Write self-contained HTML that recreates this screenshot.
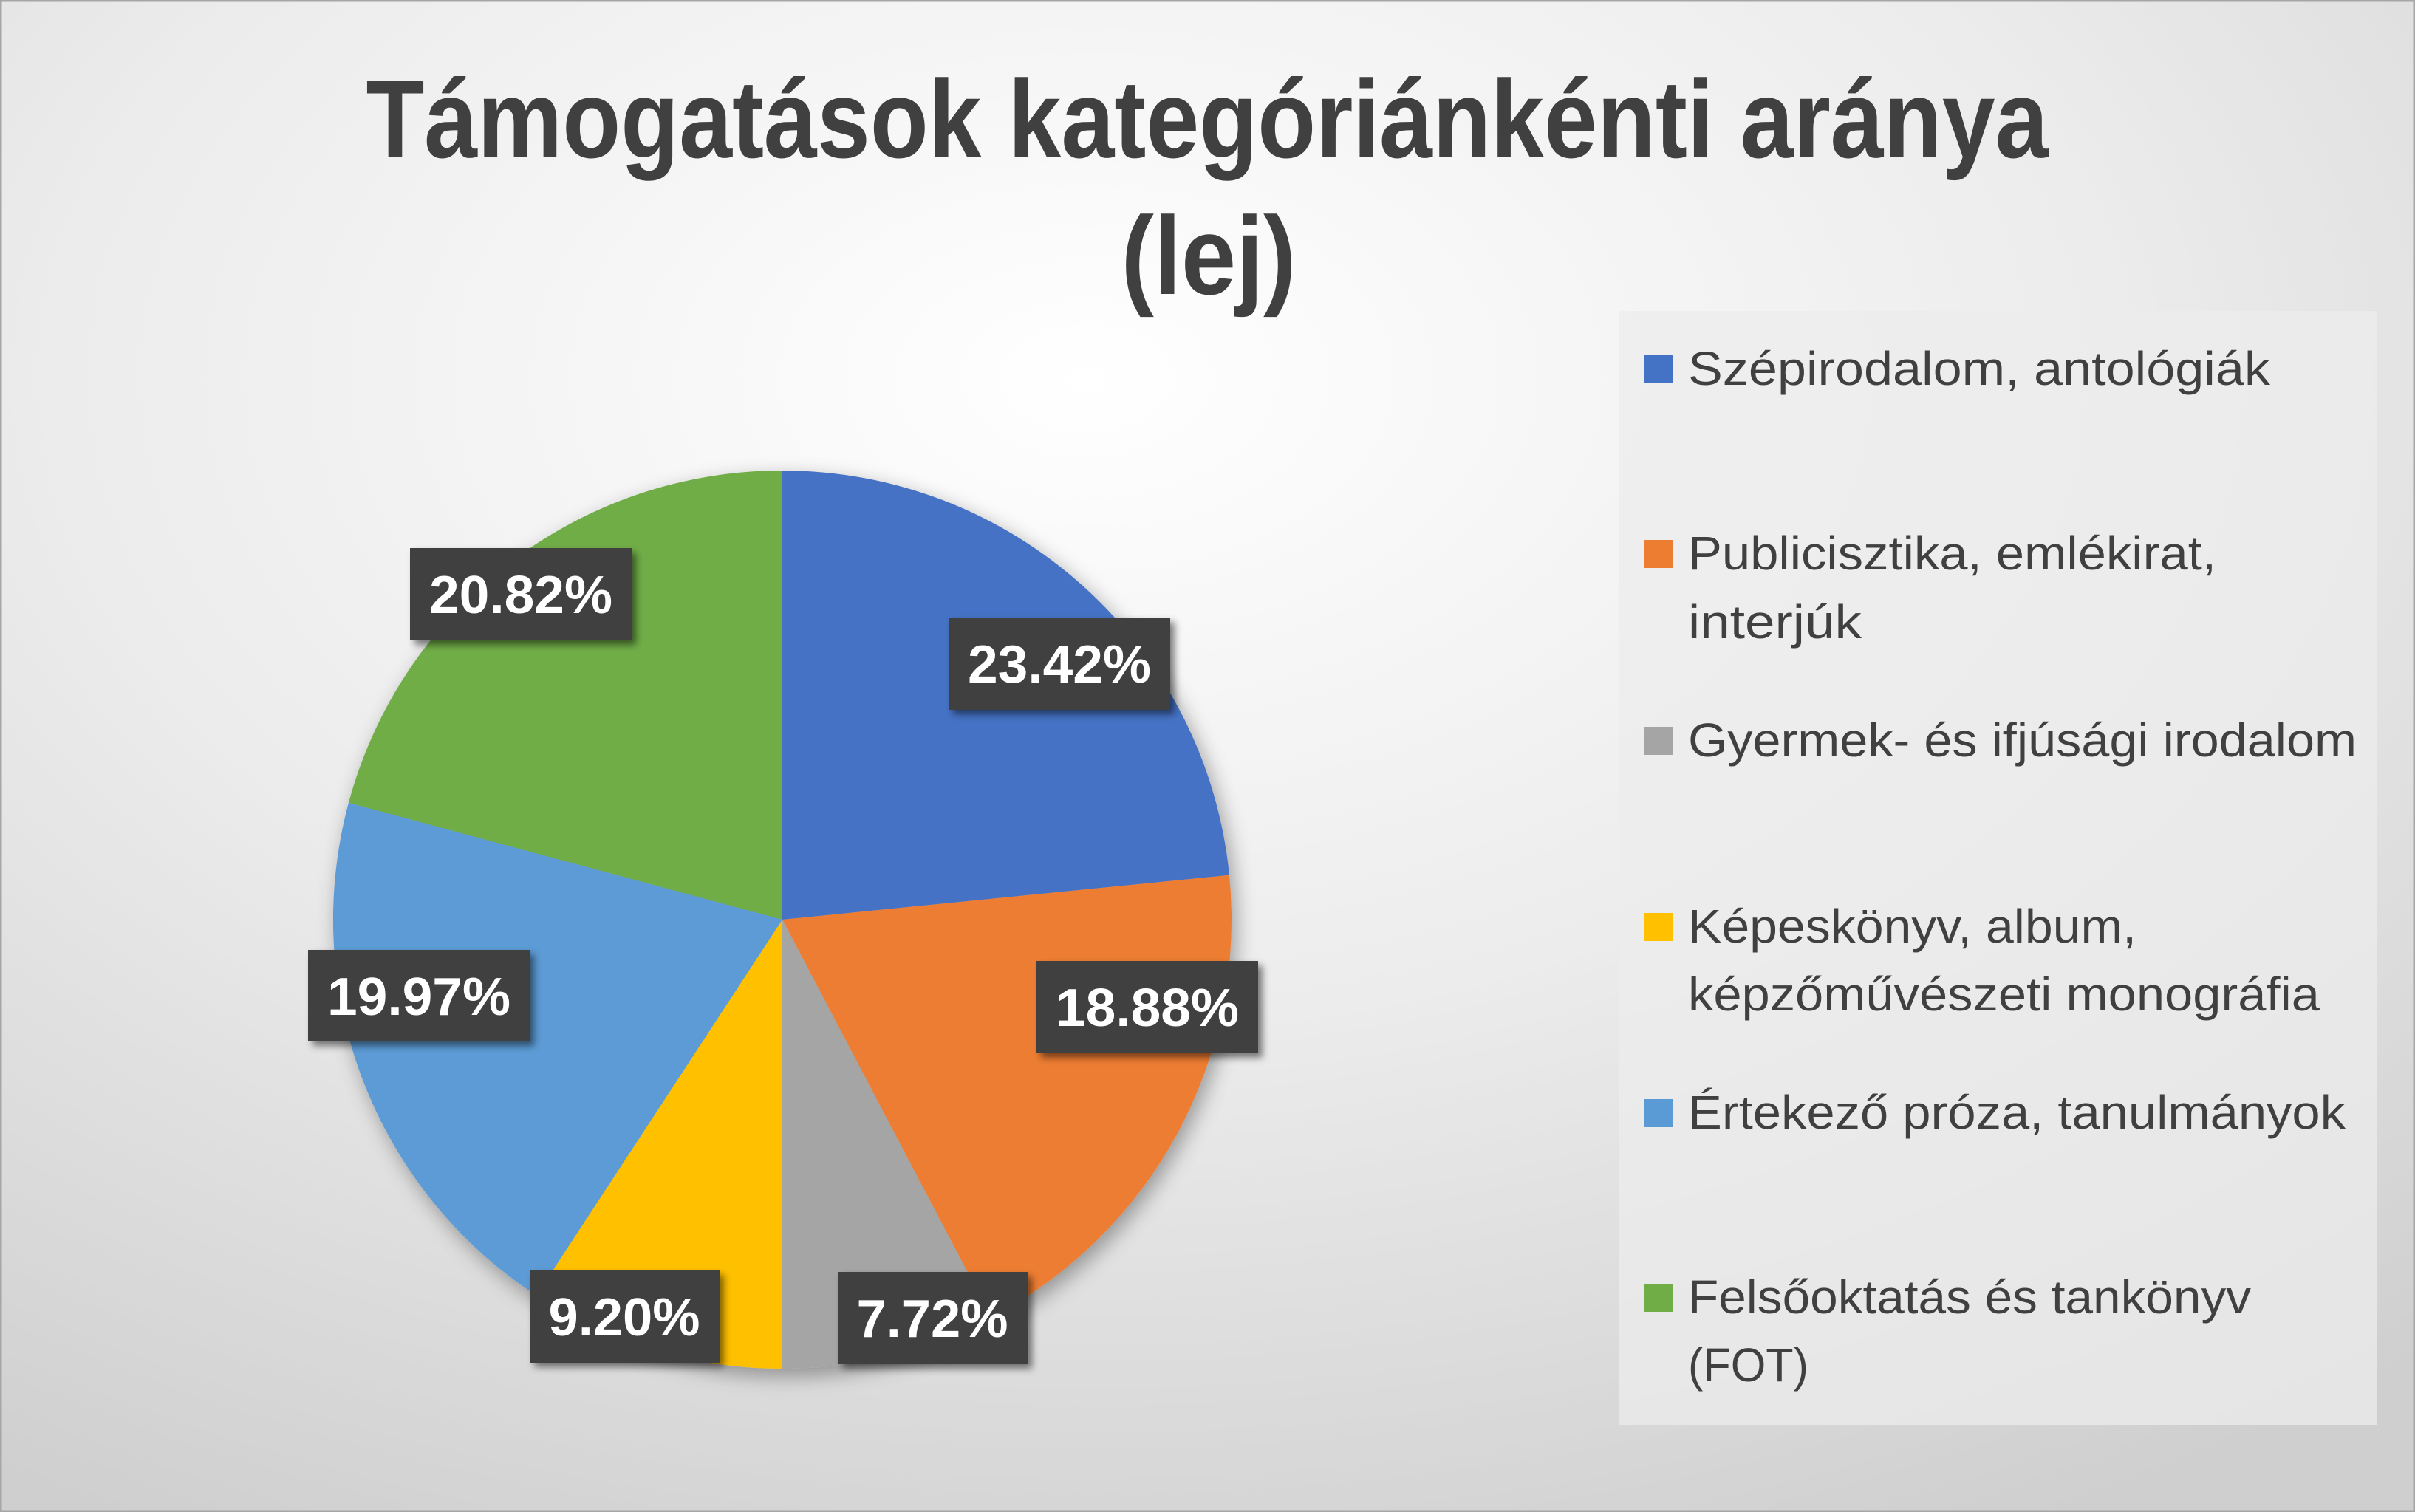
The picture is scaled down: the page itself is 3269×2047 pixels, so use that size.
<!DOCTYPE html>
<html><head><meta charset="utf-8"><style>
html,body{margin:0;padding:0;background:#fff}
svg{display:block}
text{font-family:"Liberation Sans",sans-serif}
</style></head><body>
<svg width="3269" height="2047" viewBox="0 0 3269 2047" xmlns="http://www.w3.org/2000/svg">
<defs>
<radialGradient id="bg" cx="0.45" cy="0.25" r="0.85">
<stop offset="0" stop-color="#ffffff"/>
<stop offset="0.5" stop-color="#ececec"/>
<stop offset="1" stop-color="#cfcfcf"/>
</radialGradient>
<filter id="sh" x="-20%" y="-20%" width="140%" height="140%">
<feGaussianBlur in="SourceAlpha" stdDeviation="14"/>
<feOffset dx="6" dy="10"/>
<feComponentTransfer><feFuncA type="linear" slope="0.35"/></feComponentTransfer>
<feMerge><feMergeNode/><feMergeNode in="SourceGraphic"/></feMerge>
</filter>
<filter id="lsh" x="-20%" y="-20%" width="140%" height="140%">
<feGaussianBlur in="SourceAlpha" stdDeviation="5"/>
<feOffset dx="6" dy="6"/>
<feComponentTransfer><feFuncA type="linear" slope="0.5"/></feComponentTransfer>
<feMerge><feMergeNode/><feMergeNode in="SourceGraphic"/></feMerge>
</filter>
</defs>
<rect x="0" y="0" width="3269" height="2047" fill="url(#bg)"/>
<rect x="1" y="1" width="3267" height="2045" fill="none" stroke="#a6a6a6" stroke-width="3"/>

<text x="1634" y="213" font-size="150" font-weight="bold" fill="#404040" text-anchor="middle" textLength="2277" lengthAdjust="spacingAndGlyphs">Támogatások kategóriánkénti aránya</text>
<text x="1636" y="398" font-size="150" font-weight="bold" fill="#404040" text-anchor="middle" textLength="237" lengthAdjust="spacingAndGlyphs">(lej)</text>

<g filter="url(#sh)">
<path d="M1059 1245 L1059 637 A608 608 0 0 1 1664 1184.7 Z" fill="#4472c4"/>
<path d="M1059 1245 L1664 1184.7 A608 608 0 0 1 1341.8 1783.3 Z" fill="#ed7d31"/>
<path d="M1059 1245 L1341.8 1783.3 A608 608 0 0 1 1058.3 1853 Z" fill="#a5a5a5"/>
<path d="M1059 1245 L1058.3 1853 A608 608 0 0 1 726.1 1753.8 Z" fill="#ffc000"/>
<path d="M1059 1245 L726.1 1753.8 A608 608 0 0 1 471.9 1086.8 Z" fill="#5b9bd5"/>
<path d="M1059 1245 L471.9 1086.8 A608 608 0 0 1 1059 637 Z" fill="#70ad47"/>
</g>

<g filter="url(#lsh)" fill="#404040">
<rect x="555" y="742" width="300" height="125"/>
<rect x="1284" y="836" width="300" height="125"/>
<rect x="1403" y="1301" width="300" height="125"/>
<rect x="417" y="1286" width="300" height="124"/>
<rect x="717" y="1720" width="257" height="125"/>
<rect x="1134" y="1722" width="257" height="125"/>
</g>
<g fill="#ffffff" font-size="72" font-weight="bold" text-anchor="middle">
<text x="705" y="830" textLength="248" lengthAdjust="spacingAndGlyphs">20.82%</text>
<text x="1434" y="924" textLength="248" lengthAdjust="spacingAndGlyphs">23.42%</text>
<text x="1553" y="1389" textLength="248" lengthAdjust="spacingAndGlyphs">18.88%</text>
<text x="567" y="1374" textLength="248" lengthAdjust="spacingAndGlyphs">19.97%</text>
<text x="845" y="1808" textLength="205" lengthAdjust="spacingAndGlyphs">9.20%</text>
<text x="1262" y="1810" textLength="205" lengthAdjust="spacingAndGlyphs">7.72%</text>
</g>

<rect x="2191" y="421" width="1026" height="1508" fill="#ececec" opacity="0.75"/>
<g font-size="64" fill="#404040">
<rect x="2226" y="481" width="38" height="38" fill="#4472c4"/>
<text x="2285" y="521" textLength="788" lengthAdjust="spacingAndGlyphs">Szépirodalom,  antológiák</text>
<rect x="2226" y="731" width="38" height="38" fill="#ed7d31"/>
<text x="2285" y="771" textLength="715" lengthAdjust="spacingAndGlyphs">Publicisztika, emlékirat,</text>
<text x="2285" y="864" textLength="235" lengthAdjust="spacingAndGlyphs">interjúk</text>
<rect x="2226" y="984" width="38" height="38" fill="#a5a5a5"/>
<text x="2285" y="1024" textLength="905" lengthAdjust="spacingAndGlyphs">Gyermek- és ifjúsági irodalom</text>
<rect x="2226" y="1236" width="38" height="38" fill="#ffc000"/>
<text x="2285" y="1276" textLength="607" lengthAdjust="spacingAndGlyphs">Képeskönyv, album,</text>
<text x="2285" y="1368" textLength="855" lengthAdjust="spacingAndGlyphs">képzőművészeti monográfia</text>
<rect x="2226" y="1488" width="38" height="38" fill="#5b9bd5"/>
<text x="2285" y="1528" textLength="890" lengthAdjust="spacingAndGlyphs">Értekező próza, tanulmányok</text>
<rect x="2226" y="1738" width="38" height="38" fill="#70ad47"/>
<text x="2285" y="1778" textLength="762" lengthAdjust="spacingAndGlyphs">Felsőoktatás és tankönyv</text>
<text x="2285" y="1870" textLength="163" lengthAdjust="spacingAndGlyphs">(FOT)</text>
</g>
</svg>
</body></html>
